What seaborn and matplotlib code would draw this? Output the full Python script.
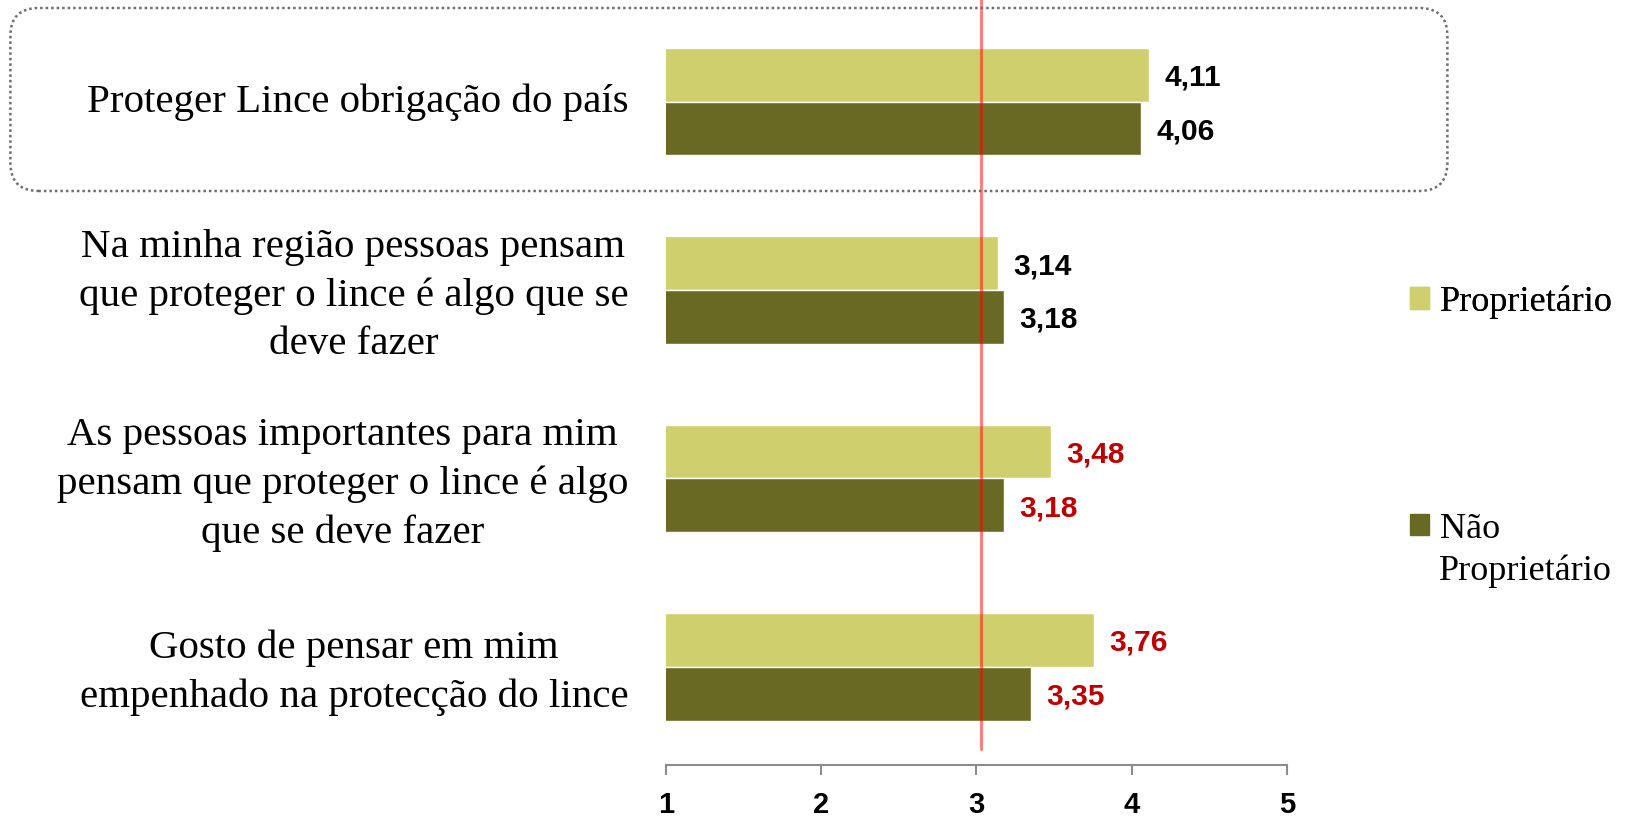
import pandas as pd
import matplotlib
matplotlib.use("Agg")
import matplotlib.pyplot as plt
import matplotlib.transforms as mtransforms
import seaborn as sns
from matplotlib.patches import Patch, FancyBboxPatch

# dados
categorias = [
    "Proteger Lince obrigação do país",
    "Na minha região pessoas pensam\nque proteger o lince é algo que se\ndeve fazer",
    "As pessoas importantes para mim\npensam que proteger o lince é algo\nque se deve fazer",
    "Gosto de pensar em mim\nempenhado na protecção do lince",
]
proprietario = [4.11, 3.14, 3.48, 3.76]
nao_proprietario = [4.06, 3.18, 3.18, 3.35]
grupos = ["Proprietário", "Não Proprietário"]
cor_valores = ["black", "black", "#C00000", "#C00000"]
ticks_x = [1, 2, 3, 4, 5]
linha_ref = 3.03

cor_clara = "#D0CF6E"
cor_escura = "#6A6923"

df = pd.DataFrame({
    "categoria": categorias * 2,
    "grupo": [grupos[0]] * 4 + [grupos[1]] * 4,
    "valor": proprietario + nao_proprietario,
})

sns.set_theme(style="white")
plt.rcParams["font.family"] = ["Liberation Serif", "DejaVu Serif"]
plt.rcParams["text.color"] = "black"
plt.rcParams["xtick.labelcolor"] = "black"
plt.rcParams["ytick.labelcolor"] = "black"

fig = plt.figure(figsize=(16.26, 8.19), dpi=100)
ax = fig.add_axes([665.8 / 1626, 54 / 819, (1287 - 665.8) / 1626, 765 / 819])

sns.barplot(data=df, x="valor", y="categoria", hue="grupo", orient="h",
            palette=[cor_clara, cor_escura], width=0.57, saturation=1,
            errorbar=None, legend=False, ax=ax)

ax.set_xlim(1, 5)
ax.set_ylim(3.521, -0.539)
ax.set_xlabel("")
ax.set_ylabel("")

# rótulos dos valores
for cont in ax.containers:
    vals = [b.get_width() for b in cont]
    txts = ax.bar_label(cont, labels=[f"{v:.2f}".replace(".", ",") for v in vals],
                        padding=11, fontsize=21.5, fontweight="bold",
                        family="Liberation Sans")
    for i, t in enumerate(txts):
        t.set_color(cor_valores[i])
        t.set_va("center_baseline")

# linha de referência
ax.axvline(linha_ref, ymin=0.021, ymax=1, color="red", alpha=0.5, lw=2.2, zorder=5)

# eixos
for s in ["top", "right", "left"]:
    ax.spines[s].set_visible(False)
ax.spines["bottom"].set_color("#8C8C8C")
ax.spines["bottom"].set_linewidth(1.5)
ax.set_xticks(ticks_x)
ax.set_xticklabels([str(t) for t in ticks_x], fontsize=21, fontweight="bold",
                   family="Liberation Sans", color="black")
ax.tick_params(axis="x", direction="out", length=7, width=1.5, color="#8C8C8C",
               pad=12, bottom=True)
ax.tick_params(axis="y", length=0, pad=27)
ax.set_yticks(range(len(categorias)))
ax.set_yticklabels(categorias, fontsize=29.5, multialignment="center",
                   linespacing=1.4, color="black")
desloc = mtransforms.ScaledTranslation(0, 4 / 100, fig.dpi_scale_trans)
for lab in ax.get_yticklabels():
    lab.set_transform(lab.get_transform() + desloc)

# legenda
leg_kw = dict(loc="center left", frameon=False, fontsize=26, handlelength=0.53,
              handleheight=0.53, handletextpad=0.3, borderpad=0, borderaxespad=0,
              labelcolor="black")
leg1 = fig.legend(handles=[Patch(color=cor_clara)], labels=["Proprietário"],
                  bbox_to_anchor=(1410 / 1626, 1 - 302 / 819), **leg_kw)
leg2 = fig.legend(handles=[Patch(color=cor_escura)], labels=["Não"],
                  bbox_to_anchor=(1410 / 1626, 1 - 529 / 819), **leg_kw)
fig.add_artist(leg1)
fig.text(1439 / 1626, 1 - 571 / 819, "Proprietário", fontsize=26,
         ha="left", va="center", color="black")

# caixa pontilhada em volta da primeira categoria
caixa = FancyBboxPatch((0.104, 6.28), 14.37, 1.83,
                       boxstyle="round,pad=0,rounding_size=0.28",
                       transform=fig.dpi_scale_trans, fill=False,
                       edgecolor="#6E6E6E", linestyle=(0, (1, 1.2)), lw=1.8)
fig.add_artist(caixa)

fig.savefig("out.png", dpi=100)
